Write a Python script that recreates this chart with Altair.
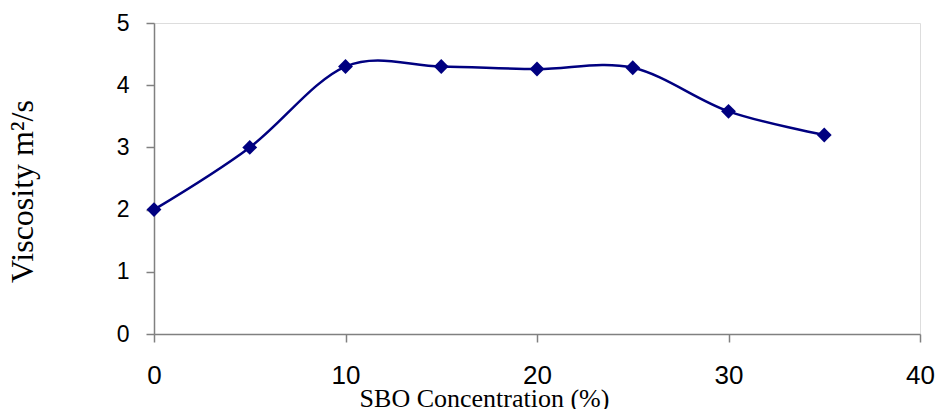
import altair as alt
import pandas as pd

concentration = [0, 5, 10, 15, 20, 25, 30, 35]
viscosity = [2.0, 3.0, 4.3, 4.3, 4.26, 4.28, 3.58, 3.2]

df = pd.DataFrame({"conc": concentration, "visc": viscosity})

x_axis = alt.Axis(
    values=[0, 10, 20, 30, 40], grid=False, tickSize=8, tickColor="#808080",
    domainColor="#808080", domainWidth=1.5, tickWidth=1.5,
    labelFont="Liberation Sans", labelFontSize=26, labelColor="black",
    labelPadding=20, labelBaseline="top", labelFlush=False,
    title="SBO Concentration (%)", titleFont="Liberation Serif", titleFontSize=26,
    titleFontWeight="normal", titleColor="black", titleX=330, titleY=72,
    titleAlign="center", titleBaseline="alphabetic", titleAnchor="start",
)
y_axis = alt.Axis(
    values=[0, 1, 2, 3, 4, 5], grid=False, tickSize=8, tickColor="#808080",
    domainColor="#808080", domainWidth=1.5, tickWidth=1.5,
    labelFont="Liberation Sans", labelFontSize=23, labelColor="black",
    labelPadding=17, labelFlush=False,
    title="Viscosity m²/s", titleFont="Liberation Serif", titleFontSize=32,
    titleFontWeight="normal", titleColor="black", titleX=-122, titleY=168,
    titleAngle=270, titleAlign="center", titleBaseline="alphabetic", titleAnchor="start",
)

x = alt.X("conc:Q", scale=alt.Scale(domain=[0, 40], nice=False), axis=x_axis)
y = alt.Y("visc:Q", scale=alt.Scale(domain=[0, 5], nice=False), axis=y_axis)

line = alt.Chart(df).mark_line(color="#000080", strokeWidth=2.5, interpolate="cardinal").encode(x=x, y=y)
pts = alt.Chart(df).mark_point(shape="diamond", filled=True, color="#000080", size=220, opacity=1).encode(x=x, y=y)

chart = (line + pts).properties(
    width=766, height=311,
    autosize=alt.AutoSizeParams(type="none"),
    padding={"left": 146, "top": 15, "right": 15, "bottom": 75},
).configure_view(stroke=None).configure(background="white")

chart.save("out.html", embed_options={"renderer": "svg", "actions": False})
